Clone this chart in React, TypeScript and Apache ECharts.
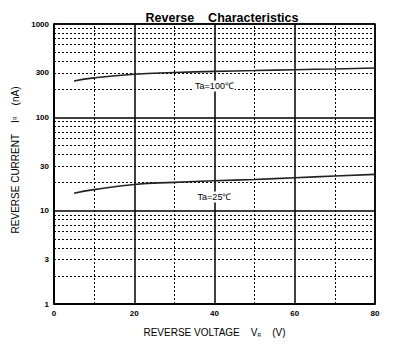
import React, { useEffect, useRef } from "react";
import * as echarts from "echarts";

const voltages = [5, 10, 20, 30, 40, 50, 60, 70, 80];
const current100 = [245, 265, 290, 302, 311, 317, 324, 330, 338];
const current25 = [15.4, 16.8, 19.1, 20.1, 20.9, 21.6, 22.5, 23.5, 24.5];
const yLabels = [1, 3, 10, 30, 100, 300, 1000];
const xMinorLines = [10, 30, 50, 70];
const yMinorLines = [2, 3, 4, 5, 6, 7, 8, 9, 20, 30, 40, 50, 60, 70, 80, 90, 200, 300, 400, 500, 600, 700, 800, 900];
const curveLabels = [
  { text: "Ta=100℃", x: 40, y: 216 },
  { text: "Ta=25℃", x: 40, y: 14 },
];

const FONT = "Liberation Sans, Arial, sans-serif";

export default function App() {
  const ref = useRef<HTMLDivElement>(null);
  useEffect(() => {
    const chart = echarts.init(ref.current!, null, { renderer: "svg" });
    const dotted = { color: "#000", width: 1, type: [2, 2] as any };
    const markLabel = (text: string) => ({
      show: true,
      position: "inside",
      formatter: text,
      fontFamily: FONT,
      fontSize: 9,
      color: "#000",
      backgroundColor: "#fff",
      padding: [1, 1],
    });
    chart.setOption({
      animation: false,
      backgroundColor: "#fff",
      title: {
        text: "Reverse    Characteristics",
        left: 217,
        textAlign: "center",
        top: 6,
        textStyle: { fontFamily: FONT, fontSize: 12.5, fontWeight: "bold", color: "#000" },
      },
      grid: {
        left: 54,
        top: 24,
        width: 321,
        height: 280,
        show: true,
        borderColor: "#000",
        borderWidth: 1.5,
        backgroundColor: "transparent",
      },
      xAxis: {
        type: "value",
        min: 0,
        max: 80,
        interval: 20,
        name: "REVERSE VOLTAGE    {s|V}{sub|R}    (V)",
        nameLocation: "middle",
        nameGap: 23,
        nameTextStyle: {
          fontFamily: FONT,
          fontSize: 10,
          color: "#000",
          rich: {
            s: { fontFamily: FONT, fontSize: 10, color: "#000" },
            sub: { fontFamily: FONT, fontSize: 5, color: "#000", verticalAlign: "bottom", padding: [5, 0, 0, 0] },
          },
        },
        axisLine: { show: true, lineStyle: { color: "#000", width: 1.5 } },
        axisTick: { show: false },
        axisLabel: { fontFamily: FONT, fontSize: 8, fontWeight: "bold", color: "#000", margin: 5 },
        splitLine: { show: true, lineStyle: { color: "#000", width: 1.5 } },
      },
      yAxis: {
        type: "log",
        logBase: 10,
        min: 1,
        max: 1000,
        name: "REVERSE CURRENT    {s|I}{sub|R}    (nA)",
        nameLocation: "middle",
        nameGap: 33,
        nameRotate: 90,
        nameTextStyle: {
          fontFamily: FONT,
          fontSize: 10,
          color: "#000",
          padding: [0, 0, 0, 8],
          rich: {
            s: { fontFamily: FONT, fontSize: 10, color: "#000" },
            sub: { fontFamily: FONT, fontSize: 5, color: "#000" },
          },
        },
        axisLine: { show: true, lineStyle: { color: "#000", width: 1.5 } },
        axisTick: { show: false },
        axisLabel: {
          fontFamily: FONT,
          fontSize: 8,
          fontWeight: "bold",
          color: "#000",
          margin: 5,
          customValues: yLabels,
          formatter: (v: number) => String(Math.round(v)),
        },
        splitLine: { show: true, lineStyle: { color: "#000", width: 1.5 } },
      },
      series: [
        {
          type: "line",
          data: voltages.map((v, i) => [v, current100[i]]),
          showSymbol: false,
          smooth: 0.5,
          lineStyle: { color: "#222", width: 1.6 },
          z: 5,
          markLine: {
            silent: true,
            symbol: "none",
            label: { show: false },
            lineStyle: dotted,
            data: [
              ...xMinorLines.map((x) => ({ xAxis: x })),
              ...yMinorLines.map((y) => ({ yAxis: y })),
            ],
          },
          markPoint: {
            symbol: "circle",
            symbolSize: 0,
            label: markLabel(curveLabels[0].text),
            data: [{ coord: [curveLabels[0].x, curveLabels[0].y] }],
          },
        },
        {
          type: "line",
          data: voltages.map((v, i) => [v, current25[i]]),
          showSymbol: false,
          smooth: 0.5,
          lineStyle: { color: "#222", width: 1.6 },
          z: 5,
          markPoint: {
            symbol: "circle",
            symbolSize: 0,
            label: markLabel(curveLabels[1].text),
            data: [{ coord: [curveLabels[1].x, curveLabels[1].y] }],
          },
        },
      ],
    });
    return () => chart.dispose();
  }, []);
  return (
    <div
      ref={ref}
      style={{ position: "fixed", left: 0, top: 0, width: 411, height: 353, background: "#fff" }}
    />
  );
}
